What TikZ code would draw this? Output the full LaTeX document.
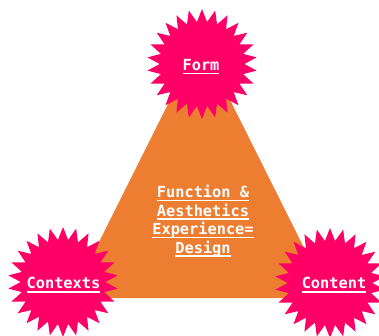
\documentclass[tikz,border=0pt]{standalone}
\usepackage{fontspec}
\setmonofont{DejaVu Sans Mono}
\usetikzlibrary{shapes.geometric}
\definecolor{burst}{HTML}{FF0066}
\definecolor{tri}{HTML}{ED7D31}
\tikzset{
  burstnode/.style={star, star points=26, star point ratio=1.3, fill=burst,
    draw=none, minimum size=110pt, inner sep=0pt},
  lbl/.style={text=white, font=\ttfamily\bfseries\fontsize{15.3}{18.5}\selectfont,
    align=center},
}
% thick underline set a little below the baseline
\newcommand{\ul}[1]{\setbox0\hbox{#1}\leavevmode\rlap{\rule[-3.8pt]{\wd0}{1.6pt}}\box0}
\begin{document}
\begin{tikzpicture}[x=1pt,y=1pt]
  \useasboundingbox (0,0) rectangle (379,335);
  % triangle corners
  \coordinate (apex) at (200,295);
  \coordinate (bl) at (71,37);
  \coordinate (br) at (329,37);
  \fill[tri] (apex) -- (bl) -- (br) -- cycle;
  % bursts at the corners
  \node[burstnode] (form) at (202,271) {};
  \node[burstnode] (contexts) at (63,53) {};
  \node[burstnode] (content) at (330,52) {};
  % labels
  \node[lbl] (formtxt) at (201,268) {\ul{Form}};
  \node[lbl] (contextstxt) at (63.5,50) {\ul{Contexts}};
  \node[lbl] (contenttxt) at (334,50) {\ul{Content}};
  \node[lbl] (centre) at (203,114) {\ul{Function \&}\\\ul{Aesthetics}\\\ul{Experience=}\\\ul{Design}};
\end{tikzpicture}
\end{document}
